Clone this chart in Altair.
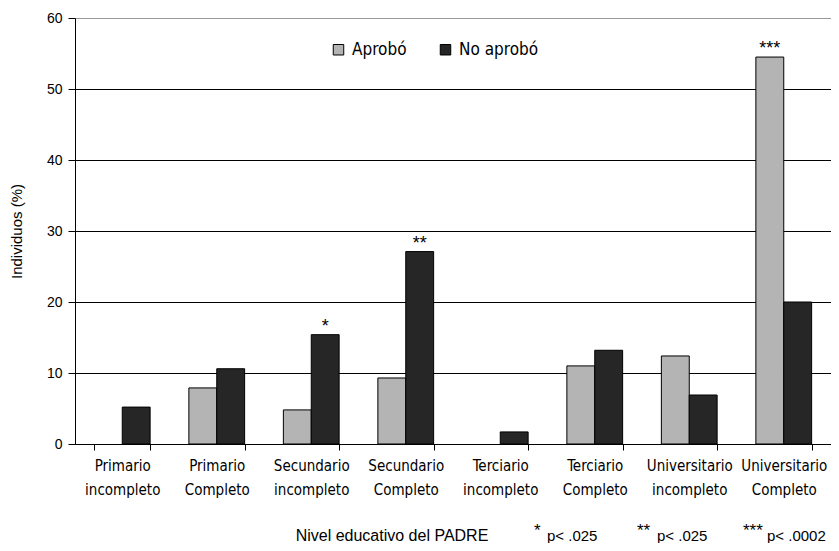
import altair as alt
import pandas as pd

categories = ["Primario incompleto", "Primario Completo", "Secundario incompleto",
              "Secundario Completo", "Terciario incompleto", "Terciario Completo",
              "Universitario incompleto", "Universitario Completo"]
series = ["Aprobó", "No aprobó"]
aprobo = [0, 7.9, 4.8, 9.3, 0, 11.0, 12.4, 54.5]
no_aprobo = [5.2, 10.6, 15.4, 27.1, 1.7, 13.2, 6.9, 20.0]
sig_labels = ["", "", "*", "**", "", "", "", "***"]
sig_series = ["", "", "No aprobó", "No aprobó", "", "", "", "Aprobó"]
y_ticks = [0, 10, 20, 30, 40, 50, 60]
x_title = "Nivel educativo del PADRE"
note_stars = ["*", "**", "***"]
note_p = ["p< .025", "p< .025", "p< .0002"]

NARROW = "'Liberation Sans Narrow', 'DejaVu Sans Condensed', 'Arial Narrow', Roboto, sans-serif"

rows = []
for i, c in enumerate(categories):
    rows.append({"cat": c, "serie": series[0], "val": aprobo[i]})
    rows.append({"cat": c, "serie": series[1], "val": no_aprobo[i]})
df = pd.DataFrame(rows)

sig_rows = []
for i, c in enumerate(categories):
    if sig_labels[i]:
        v = aprobo[i] if sig_series[i] == series[0] else no_aprobo[i]
        sig_rows.append({"cat": c, "serie": sig_series[i], "val": v, "lab": sig_labels[i]})
sig_df = pd.DataFrame(sig_rows)

x_enc = alt.X("cat:N", sort=categories,
              scale=alt.Scale(paddingInner=0.41, paddingOuter=0.205),
              axis=alt.Axis(title=None, labelAngle=0, labelExpr="split(datum.label, ' ')",
                            labelFont=NARROW, labelFontSize=15,
                            labelColor="#000", labelLineHeight=24, labelPadding=8,
                            tickBand="extent", tickSize=6, tickColor="#000",
                            domainColor="#000", grid=False, labelBaseline="top"))
xoff = alt.XOffset("serie:N", sort=series, scale=alt.Scale(paddingInner=0, paddingOuter=0))
y_enc = alt.Y("val:Q", scale=alt.Scale(domain=[0, 60], nice=False),
              axis=alt.Axis(title="Individuos (%)", values=y_ticks,
                            titleFont="Liberation Sans", titleFontSize=15,
                            titleFontWeight="normal", titleColor="#000", titlePadding=22,
                            labelFont="Liberation Sans", labelFontSize=14, labelColor="#000",
                            tickSize=7, tickColor="#000", labelPadding=6,
                            domainColor="#000",
                            gridColor={"condition": {"test": "datum.value === 60", "value": "#999999"},
                                       "value": "#000000"}))

bars = alt.Chart(df).transform_filter("datum.val > 0").mark_bar(stroke="#000", strokeWidth=1).encode(
    x=x_enc, xOffset=xoff, y=y_enc,
    color=alt.Color("serie:N", sort=series,
                    scale=alt.Scale(domain=series, range=["#b4b4b4", "#262626"]),
                    legend=alt.Legend(title=None, orient="none", legendX=255, legendY=23,
                                      direction="horizontal", symbolType="square",
                                      symbolSize=110, symbolStrokeColor="#000",
                                      symbolStrokeWidth=1, labelFont=NARROW,
                                      labelFontSize=17, labelColor="#000",
                                      columnPadding=30, labelOffset=5))
)

sig = alt.Chart(sig_df).mark_text(fontSize=18, font="Liberation Sans", color="#000",
                                  baseline="bottom", dy=1).encode(
    x=alt.X("cat:N", sort=categories), xOffset=alt.XOffset("serie:N", sort=series),
    y="val:Q", text="lab:N")

title_df = pd.DataFrame({"t": [x_title]})
title_mark = alt.Chart(title_df).mark_text(font="Liberation Sans", fontSize=16, color="#000",
                                           align="center", baseline="middle").encode(
    x=alt.value(317), y=alt.value(518), text="t:N")

note_x_star = [459, 562, 668]
note_x_p = [472, 582, 692]
notes = []
for i in range(3):
    notes.append(alt.Chart(pd.DataFrame({"t": [note_stars[i]]})).mark_text(
        font="Liberation Sans", fontSize=17, color="#000", align="left", baseline="middle").encode(
        x=alt.value(note_x_star[i]), y=alt.value(513), text="t:N"))
    notes.append(alt.Chart(pd.DataFrame({"t": [note_p[i]]})).mark_text(
        font="Liberation Sans", fontSize=15, color="#000", align="left", baseline="middle").encode(
        x=alt.value(note_x_p[i]), y=alt.value(518), text="t:N"))

chart = alt.layer(bars, sig, title_mark, *notes).properties(
    width=756, height=426,
    autosize=alt.AutoSizeParams(type="none"),
    padding={"left": 67, "top": 10, "right": 0, "bottom": 99},
).configure_view(stroke="#999999", strokeWidth=1).configure(background="white")

chart.save("out.html", embed_options={"renderer": "svg", "actions": False})
